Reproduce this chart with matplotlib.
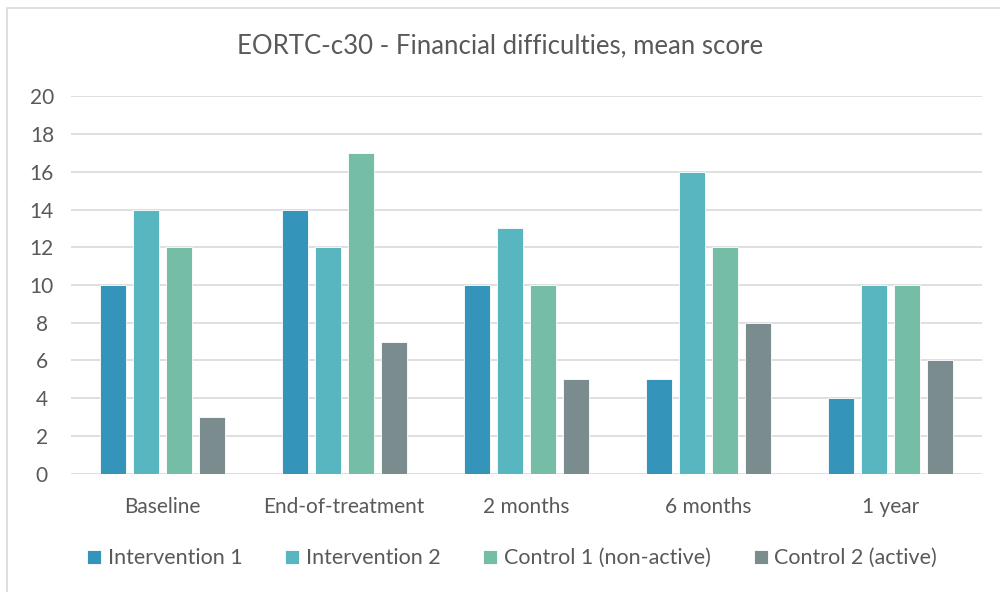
import numpy as np
import matplotlib.pyplot as plt
from matplotlib.patches import Rectangle

categories = ["Baseline", "End-of-treatment", "2 months", "6 months", "1 year"]
series_names = ["Intervention 1", "Intervention 2", "Control 1 (non-active)", "Control 2 (active)"]
intervention1 = [10, 14, 10, 5, 4]
intervention2 = [14, 12, 13, 16, 10]
control1 = [12, 17, 10, 12, 10]
control2 = [3, 7, 5, 8, 6]
colors = ["#3494BA", "#58B6C0", "#75BDA7", "#7A8C8E"]

plt.rcParams['font.family'] = ['Lato', 'DejaVu Sans']
text_col = "#595959"

fig = plt.figure(figsize=(10, 5.92), dpi=100)
ax = fig.add_axes([0.071, 0.2, 0.911, 0.637])

x = np.arange(len(categories))
width = 0.143
step = 0.181
for i, (vals, name) in enumerate(zip([intervention1, intervention2, control1, control2], series_names)):
    ax.bar(x + (i - 1.5) * step, vals, width, color=colors[i], label=name,
           edgecolor="white", linewidth=0.6, zorder=3)

ax.set_xlim(-0.5, len(categories) - 0.5)
ax.set_ylim(0, 20)
ax.set_yticks(range(0, 21, 2))
ax.set_xticks(x)
ax.set_xticklabels(categories)
ax.grid(axis='y', color="#D9D9D9", linewidth=1.2, zorder=0)
for s in ax.spines.values():
    s.set_visible(False)
ax.tick_params(length=0, labelsize=15, colors=text_col)
ax.tick_params(axis='x', pad=16.5)
ax.tick_params(axis='y', pad=21)
for lbl in ax.get_yticklabels():
    lbl.set_horizontalalignment('center')

fig.text(0.5, 0.923, "EORTC-c30 - Financial difficulties, mean score", ha='center', va='center',
         fontsize=18.5, color=text_col)

leg = fig.legend(loc='center', bbox_to_anchor=(0.512, 0.057), ncol=4, frameon=False,
                 fontsize=15.5, handlelength=0.65, handleheight=0.65, handletextpad=0.3,
                 columnspacing=2.0)
for t in leg.get_texts():
    t.set_color(text_col)

fig.patches.append(Rectangle((0.007, -0.1), 1.1, 1.086, transform=fig.transFigure,
                             fill=False, edgecolor="#D9D9D9", linewidth=1.2))

fig.savefig("out.png", dpi=100)
